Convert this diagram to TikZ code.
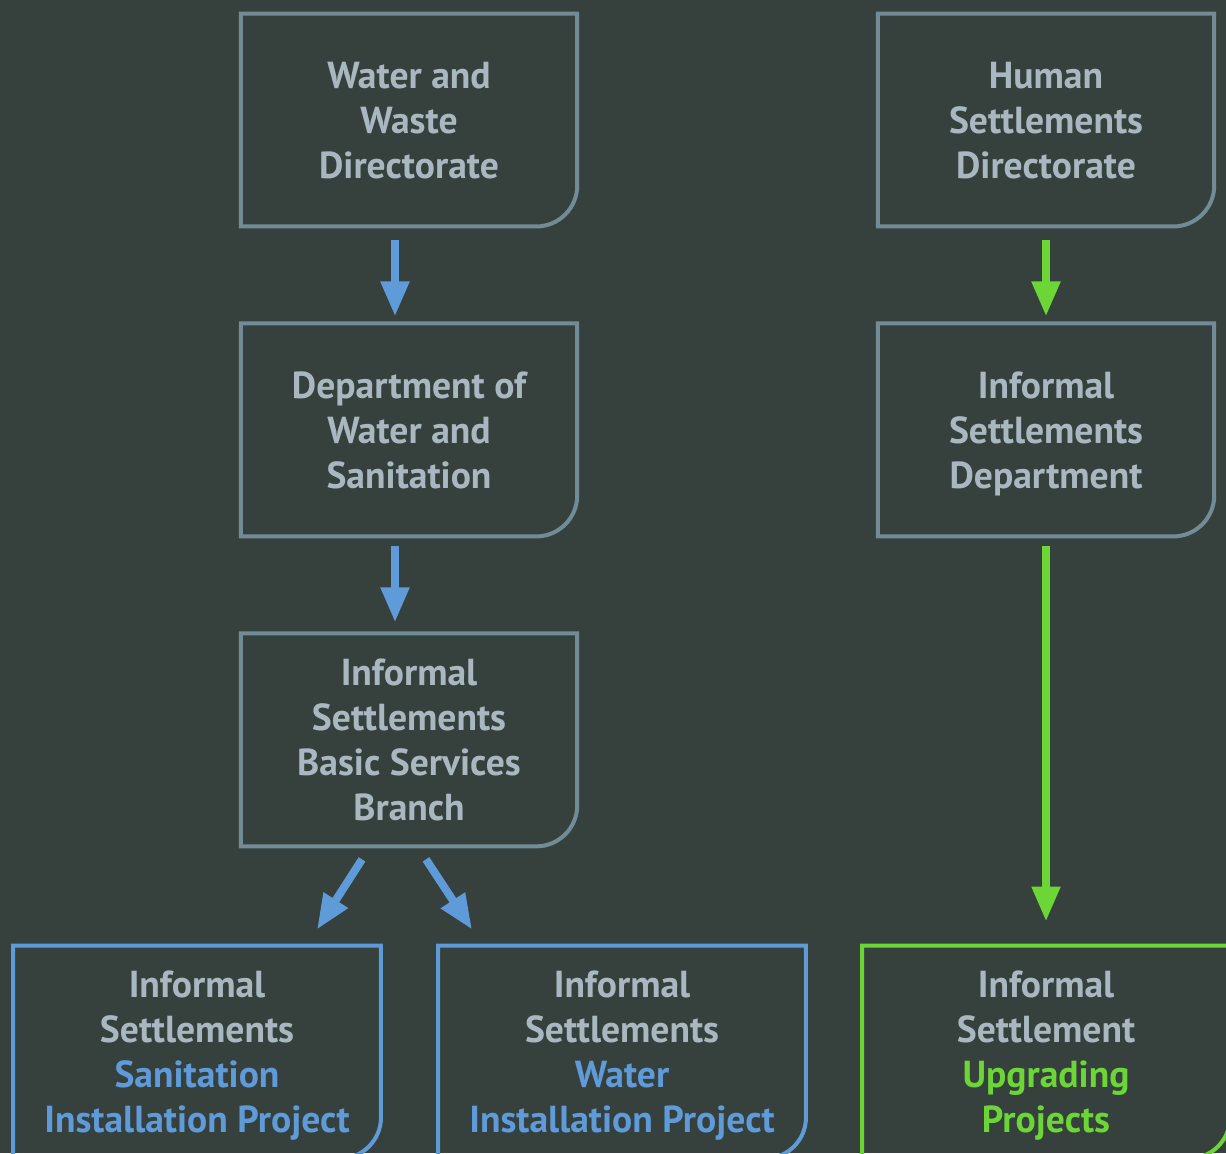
\documentclass[tikz,border=0pt]{standalone}
\usepackage{fontspec}
\setsansfont{PT Sans}
\usetikzlibrary{arrows.meta}
\usetikzlibrary{positioning}
\definecolor{bg}{HTML}{36413D}
\definecolor{edge}{HTML}{728C97}
\definecolor{txt}{HTML}{A9B8C0}
\definecolor{sky}{HTML}{5F9BD9}
\definecolor{lime}{HTML}{6DD637}

\begin{document}
\begin{tikzpicture}[x=0.02cm, y=-0.02cm,
    node distance = 1.94cm,
every node/.style = {inner sep=2pt, outer sep=0pt},
      unit/.style = {minimum width=6.73cm, minimum height=4.26cm, align=center,
                     text depth=-0.17cm,
                     text=txt, font=\sffamily\bfseries\fontsize{21.4}{25.6}\selectfont},
      proj/.style = {unit, minimum width=7.36cm},
      flow/.style = {line width=0.16cm, -{Triangle[length=0.7cm,width=0.54cm]}}]
\useasboundingbox (0,0) rectangle (1226,1153);
\fill[bg] (0,0) rectangle (1226,1153);
\clip (0,0) rectangle (1226,1153);

% water and sanitation side
\node[unit] (wwd) at (409,120)  {Water and\\Waste\\Directorate};
\node[unit, below=of wwd] (dws) {Department of\\Water and\\Sanitation};
\node[unit, below=of dws] (isb) {Informal\\Settlements\\Basic Services\\Branch};
\node[proj] (sip) at (197,1052) {Informal\\Settlements\\
      \textcolor{sky}{Sanitation}\\\textcolor{sky}{Installation Project}};
\node[proj] (wip) at (622,1052) {Informal\\Settlements\\
      \textcolor{sky}{Water}\\\textcolor{sky}{Installation Project}};

% human settlements side
\node[unit] (hsd) at (1046,120)  {Human\\Settlements\\Directorate};
\node[unit, below=of hsd] (isd)  {Informal\\Settlements\\Department};
\node[proj] (upp) at (1046,1052) {Informal\\Settlement\\
      \textcolor{lime}{Upgrading}\\\textcolor{lime}{Projects}};

\foreach \n/\c in {wwd/edge, dws/edge, isb/edge, hsd/edge, isd/edge,
                   sip/sky, wip/sky, upp/lime}
  \draw[\c, line width=0.08cm] (\n.north west) -- (\n.north east)
    -- ([yshift=0.82cm]\n.south east) arc[start angle=0, end angle=-90, radius=0.82cm]
    -- (\n.south west) -- cycle;

\draw[flow, sky] ([xshift=-0.28cm, yshift=-0.27cm]wwd.south) -- ([xshift=-0.28cm, yshift=0.14cm]dws.north);
\draw[flow, sky] ([xshift=-0.28cm, yshift=-0.2cm]dws.south) -- ([xshift=-0.28cm, yshift=0.22cm]isb.north);
\draw[flow, sky] ([xshift=-0.94cm, yshift=-0.26cm]isb.south) -- ([xshift=2.4cm, yshift=0.32cm]sip.north);
\draw[flow, sky] ([xshift=0.34cm, yshift=-0.26cm]isb.south) -- ([xshift=-3cm, yshift=0.32cm]wip.north);

\draw[flow, lime] ([yshift=-0.27cm]hsd.south) -- ([yshift=0.14cm]isd.north);
\draw[flow, lime] ([yshift=-0.2cm]isd.south) -- ([yshift=0.48cm]upp.north);
\end{tikzpicture}
\end{document}
